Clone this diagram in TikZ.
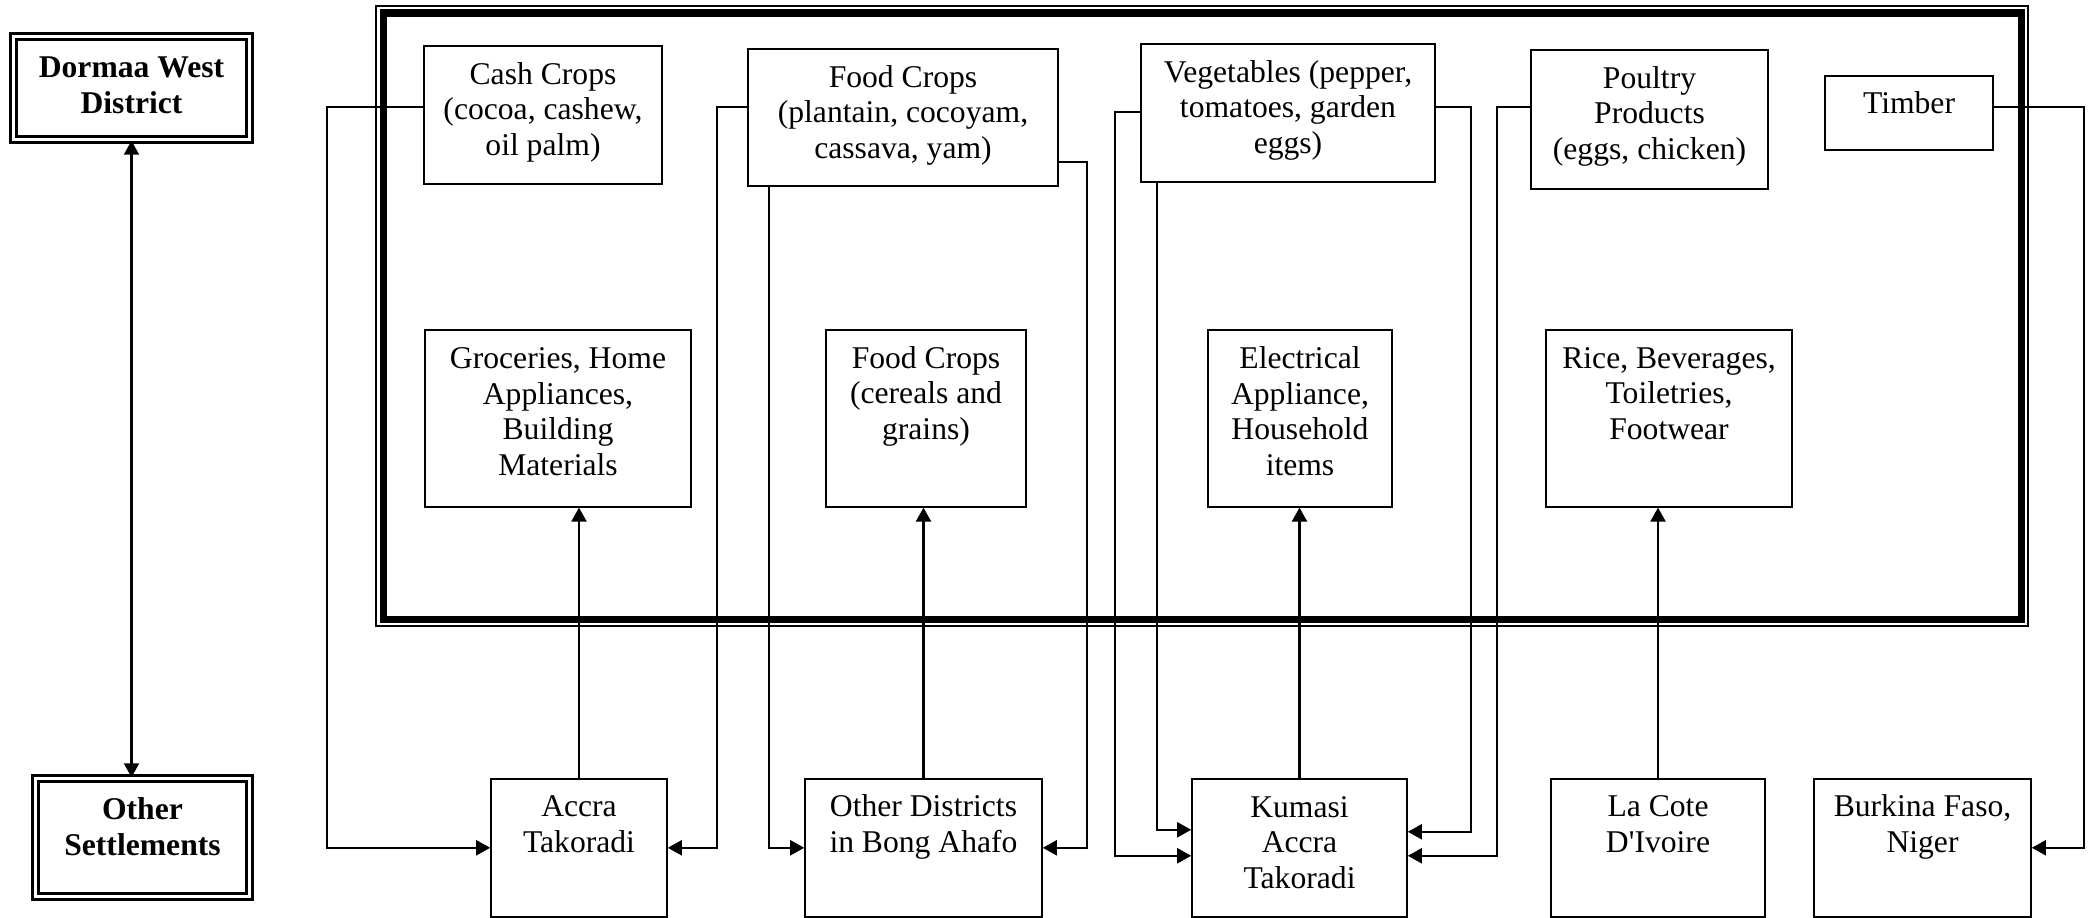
\documentclass[tikz,border=0pt]{standalone}
\usepackage{fontspec}
\setmainfont{Liberation Serif}
\usetikzlibrary{arrows.meta, positioning, calc}

\begin{document}
\begin{tikzpicture}[
    font=\fontsize{9}{10.2}\selectfont,
    itembox/.style 2 args={draw, line width=0.45pt, anchor=north, align=center,
      inner sep=0pt, text height=#1, text depth=#2},
    placebox/.style 2 args={draw, double, double distance=0.9pt, line width=0.7pt,
      align=center, inner sep=0pt, text height=#1, text depth=#2,
      font=\fontsize{9}{10.2}\selectfont\bfseries},
    link/.style={line width=0.6pt, ->},
    >={Triangle[length=0.14cm, width=0.15cm]}
  ]
  \useasboundingbox (0,0) rectangle (20.91,9.17);

  \node[placebox={0.77cm}{0.26cm}, minimum width=2.36cm] (dormaa) at (1.315,8.29)
    {Dormaa West\\District};
  \node[placebox={0.77cm}{0.41cm}, minimum width=2.14cm] (other) at (1.425,0.795)
    {Other\\Settlements};
  \draw[<->, line width=0.6pt] (dormaa.south) -- (dormaa.south |- other.north);

  % district frame
  \draw[line width=0.4pt] (3.76,2.91) rectangle (20.28,9.11);
  \draw[line width=0.07cm] (3.835,2.975) rectangle (20.21,9.04);

  \node[itembox={1.10cm}{0.28cm}, minimum width=2.38cm] (cash) at (5.43,8.72)
    {Cash Crops\\(cocoa, cashew,\\oil palm)};
  \node[itembox={1.10cm}{0.27cm}, minimum width=3.10cm] (foodtop) at (9.03,8.69)
    {Food Crops\\(plantain, cocoyam,\\cassava, yam)};
  \node[itembox={1.10cm}{0.28cm}, minimum width=2.94cm] (veg) at (12.88,8.74)
    {Vegetables (pepper,\\tomatoes, garden\\eggs)};
  \node[itembox={1.10cm}{0.29cm}, minimum width=2.37cm] (poultry) at (16.495,8.68)
    {Poultry\\Products\\(eggs, chicken)};
  \node[itembox={0.38cm}{0.36cm}, minimum width=1.68cm] (timber) at (19.09,8.42)
    {Timber};

  \node[itembox={1.46cm}{0.31cm}, minimum width=2.66cm] (groceries) at (5.58,5.88)
    {Groceries, Home\\Appliances,\\Building\\Materials};
  \node[itembox={1.10cm}{0.67cm}, minimum width=2.00cm] (cereals) at (9.26,5.88)
    {Food Crops\\(cereals and\\grains)};
  \node[itembox={1.46cm}{0.31cm}, minimum width=1.84cm] (electrical) at (13.00,5.88)
    {Electrical\\Appliance,\\Household\\items};
  \node[itembox={1.10cm}{0.67cm}, minimum width=2.46cm] (rice) at (16.69,5.88)
    {Rice, Beverages,\\Toiletries,\\Footwear};

  \node[itembox={0.74cm}{0.64cm}, minimum width=1.76cm] (accra) at (5.79,1.39)
    {Accra\\Takoradi};
  \node[itembox={0.74cm}{0.64cm}, minimum width=2.37cm] (otherdist) at (9.235,1.39)
    {Other Districts\\in Bong Ahafo};
  \node[itembox={1.10cm}{0.28cm}, minimum width=2.15cm] (kumasi) at (12.995,1.39)
    {Kumasi\\Accra\\Takoradi};
  \node[itembox={0.74cm}{0.64cm}, minimum width=2.14cm] (cote) at (16.58,1.39)
    {La Cote\\D\textquotesingle Ivoire};
  \node[itembox={0.74cm}{0.64cm}, minimum width=2.17cm] (burkina) at (19.225,1.39)
    {Burkina Faso,\\Niger};

  % exports
  \coordinate (exitrow) at (0,8.10);
  \draw[link] (cash.west |- exitrow) -- ++(-0.96,0) |- (accra.west);
  \draw[link] (foodtop.west |- exitrow) -- ++(-0.30,0) |- (accra.east);
  \draw[link] ([xshift=0.22cm]foodtop.south west) |- (otherdist.west);
  \draw[link] (foodtop.east |- 0,7.55) -- ++(0.28,0) |- (otherdist.east);
  \draw[link] (veg.west |- 0,8.05) -- ++(-0.25,0) |- ([yshift=-0.08cm]kumasi.west);
  \draw[link] ([xshift=0.17cm]veg.south west) |- ([yshift=0.18cm]kumasi.west);
  \draw[link] (veg.east |- exitrow) -- ++(0.35,0) |- ([yshift=0.16cm]kumasi.east);
  \draw[link] (poultry.west |- exitrow) -- ++(-0.33,0) |- ([yshift=-0.08cm]kumasi.east);
  \draw[link] (timber.east |- exitrow) -- ++(0.90,0) |- (burkina.east);

  % imports
  \draw[link] (accra.north) -- (accra.north |- groceries.south);
  \draw[link] (otherdist.north) -- (otherdist.north |- cereals.south);
  \draw[link] (kumasi.north) -- (kumasi.north |- electrical.south);
  \draw[link] (cote.north) -- (cote.north |- rice.south);
\end{tikzpicture}
\end{document}
